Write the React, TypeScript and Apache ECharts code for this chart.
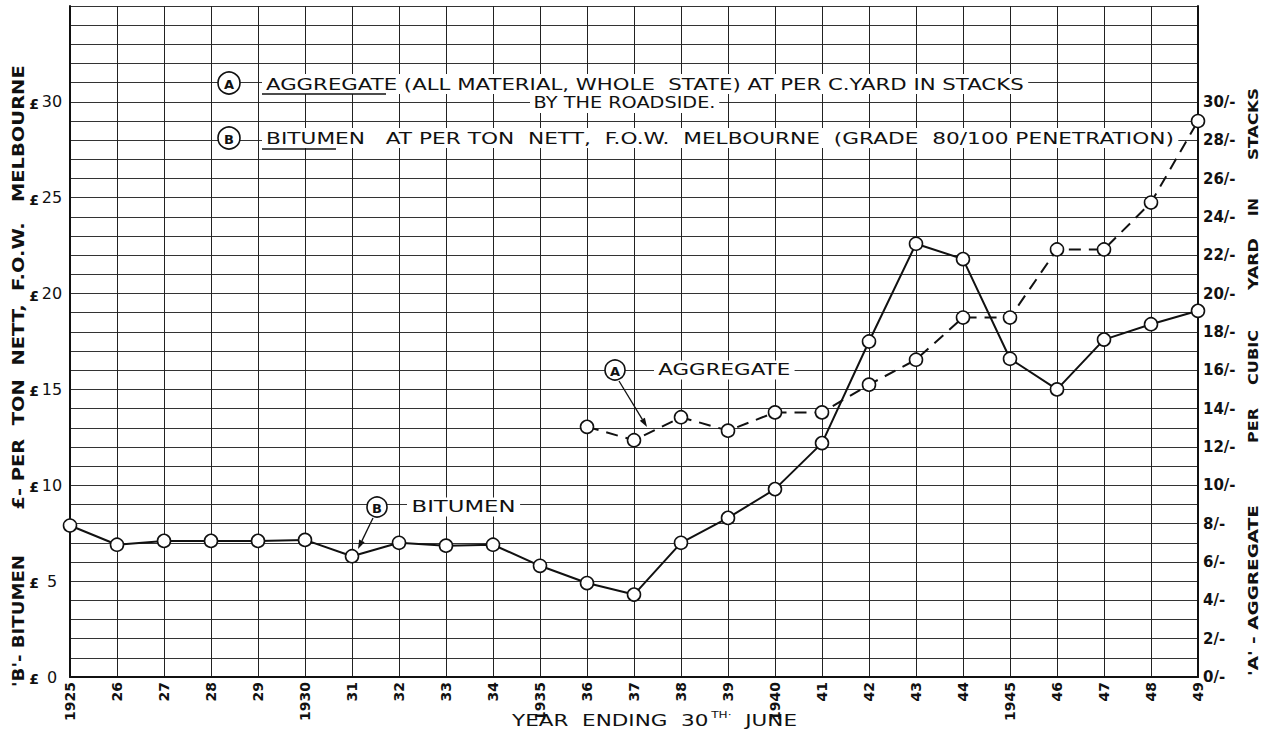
import React, { useEffect, useRef } from "react";
import * as echarts from "echarts";

const years = ["1925","26","27","28","29","1930","31","32","33","34","1935","36","37","38","39","1940","41","42","43","44","1945","46","47","48","49"];
// B - Bitumen, £ per ton nett, F.O.W. Melbourne
const bitumen = [7.9,6.9,7.1,7.1,7.1,7.15,6.3,7.0,6.85,6.9,5.8,4.9,4.3,7.0,8.3,9.8,12.2,17.5,22.6,21.8,16.6,15.0,17.6,18.4,19.1];
// A - Aggregate, shillings per cubic yard in stacks
const aggregate = [null,null,null,null,null,null,null,null,null,null,null,13.05,12.35,13.55,12.85,13.8,13.8,15.25,16.55,18.75,18.75,22.3,22.3,24.75,29.0];

const leftTicks = [0,5,10,15,20,25,30];
const rightTicks = [0,2,4,6,8,10,12,14,16,18,20,22,24,26,28,30];

const FONT = "DejaVu Sans";
const INK = "#111";

let measureCtx: CanvasRenderingContext2D | null = null;
function measure(text: string, font: string): number {
  if (!measureCtx) measureCtx = document.createElement("canvas").getContext("2d");
  measureCtx!.font = font;
  return measureCtx!.measureText(text).width;
}

export default function App() {
  const ref = useRef<HTMLDivElement>(null);
  useEffect(() => {
    const chart = echarts.init(ref.current!, null, { renderer: "svg" });
    const circleLabel = (cx: number, cy: number, ch: string, r: number) => [
      { type: "circle", z: 20, shape: { cx, cy, r }, style: { fill: "#fff", stroke: INK, lineWidth: 1.6 } },
      { type: "text", z: 21, x: cx, y: cy + 1, style: { text: ch, font: `bold 13px "${FONT}"`, fill: INK, align: "center", verticalAlign: "middle" } },
    ];
    const arrow = (x1: number, y1: number, x2: number, y2: number) => {
      const a = Math.atan2(y2 - y1, x2 - x1);
      const L = 9, W = 3;
      const bx = x2 - L * Math.cos(a), by = y2 - L * Math.sin(a);
      return [
        { type: "line", z: 20, shape: { x1, y1, x2: bx, y2: by }, style: { stroke: INK, lineWidth: 1.3 } },
        { type: "polygon", z: 20, shape: { points: [[x2, y2], [bx + W * Math.sin(a), by - W * Math.cos(a)], [bx - W * Math.sin(a), by + W * Math.cos(a)]] }, style: { fill: INK } },
      ];
    };
    // horizontal text fitted to a given span [x1, x2]
    const hfit = (x1: number, x2: number, y: number, text: string, size: number, weight = "normal") => {
      const font = `${weight} ${size}px "${FONT}"`;
      const sx = (x2 - x1) / measure(text, font);
      return {
        type: "text", z: 20, x: x1, y, scaleX: sx,
        style: { text, font, fill: INK, align: "left", verticalAlign: "middle", backgroundColor: "#fff", padding: [2, 3] },
      };
    };
    // vertical text (reads bottom to top) fitted to a span [yTop, yBottom]
    const vfit = (x: number, yTop: number, yBottom: number, text: string, size: number) => {
      const font = `bold ${size}px "${FONT}"`;
      const sx = (yBottom - yTop) / measure(text, font);
      return {
        type: "text", z: 20, x, y: (yTop + yBottom) / 2, rotation: Math.PI / 2, scaleX: sx,
        style: { text, font, fill: INK, align: "center", verticalAlign: "middle" },
      };
    };

    const xNameFont = `16px "${FONT}"`;
    const xNameWidth = measure("YEAR  ENDING  30", xNameFont) + measure("TH·", `9px "${FONT}"`) + 2 + measure("  JUNE", xNameFont);

    chart.setOption({
      animation: false,
      backgroundColor: "#fff",
      grid: { left: 70, right: 78, top: 6, bottom: 59 },
      xAxis: {
        type: "category",
        data: years,
        boundaryGap: false,
        axisLine: { lineStyle: { color: INK, width: 2 } },
        axisTick: { show: false },
        axisLabel: { interval: 0, rotate: 90, margin: 5, fontFamily: FONT, fontSize: 14, fontWeight: "bold", color: INK },
        splitLine: { show: true, interval: 0, lineStyle: { color: "#222", width: 1 } },
      },
      yAxis: [
        {
          type: "value", min: 0, max: 35, interval: 1, position: "left",
          axisLine: { show: true, lineStyle: { color: INK, width: 2 } },
          axisTick: { show: false },
          splitLine: { show: true, lineStyle: { color: "#333", width: 1 } },
          axisLabel: {
            margin: 6, color: INK, fontFamily: FONT,
            formatter: (v: number) => (leftTicks.includes(v) ? `{p|£}{n|${v}}` : ""),
            rich: {
              p: { fontFamily: FONT, fontSize: 14, fontWeight: "bold", color: INK, width: 12, align: "center", padding: [4, 0, 0, 0] },
              n: { fontFamily: FONT, fontSize: 16, color: INK, width: 24, align: "center" },
            },
          },
        },
        {
          type: "value", min: 0, max: 35, interval: 1, position: "right",
          axisLine: { show: true, lineStyle: { color: INK, width: 2 } },
          axisTick: { show: false },
          splitLine: { show: false },
          axisLabel: {
            margin: 5, color: INK, fontFamily: FONT, fontSize: 15, fontWeight: "bold",
            formatter: (v: number) => (rightTicks.includes(v) ? `${v}/-` : ""),
          },
        },
      ],
      series: [
        {
          name: "Bitumen", type: "line", data: bitumen, yAxisIndex: 0, z: 5,
          symbol: "circle", symbolSize: 13,
          lineStyle: { color: INK, width: 2 },
          itemStyle: { color: "#fff", borderColor: INK, borderWidth: 1.6 },
        },
        {
          name: "Aggregate", type: "line", data: aggregate, yAxisIndex: 1, z: 5,
          symbol: "circle", symbolSize: 13,
          lineStyle: { color: INK, width: 2, type: [12, 8] },
          itemStyle: { color: "#fff", borderColor: INK, borderWidth: 1.6 },
        },
      ],
      graphic: [
        // legend block
        ...circleLabel(229, 83, "A", 11),
        hfit(262, 1020, 84, "AGGREGATE (ALL MATERIAL, WHOLE  STATE) AT PER C.YARD IN STACKS", 16),
        { type: "line", z: 22, shape: { x1: 262, y1: 94, x2: 386, y2: 94 }, style: { stroke: INK, lineWidth: 1.5 } },
        hfit(530, 712, 103, "BY THE ROADSIDE.", 16),
        ...circleLabel(229, 138, "B", 11),
        hfit(262, 1170, 138, "BITUMEN   AT PER TON  NETT,  F.O.W.  MELBOURNE  (GRADE  80/100 PENETRATION)", 16),
        { type: "line", z: 22, shape: { x1: 262, y1: 149, x2: 336, y2: 149 }, style: { stroke: INK, lineWidth: 1.5 } },
        // series annotations
        ...circleLabel(615, 370, "A", 10),
        hfit(654, 786, 370, "AGGREGATE", 15),
        ...arrow(619, 381, 647, 427),
        ...circleLabel(377, 507, "B", 10),
        hfit(407, 511, 507, "BITUMEN", 15),
        ...arrow(373, 518, 358, 549),
        // left axis title (bottom to top)
        vfit(19, 555, 687, "'B'- BITUMEN", 15),
        vfit(19, 65, 510, "£- PER  TON  NETT,  F.O.W.   MELBOURNE", 15),
        // right axis title (bottom to top)
        vfit(1253, 505, 676, "'A' - AGGREGATE", 14),
        vfit(1253, 408, 443, "PER", 14),
        vfit(1253, 330, 385, "CUBIC", 14),
        vfit(1253, 238, 290, "YARD", 14),
        vfit(1253, 198, 216, "IN", 14),
        vfit(1253, 88, 160, "STACKS", 14),
        // x axis title
        {
          type: "text", z: 20, x: 512, y: 720, scaleX: 285 / xNameWidth,
          style: {
            text: "YEAR  ENDING  30{s|TH·}  JUNE",
            font: xNameFont, fill: INK, align: "left", verticalAlign: "middle",
            rich: { s: { fontSize: 9, fontFamily: FONT, fill: INK, color: INK, padding: [0, 0, 9, 2] } },
          },
        },
      ],
    });
    return () => chart.dispose();
  }, []);
  return <div ref={ref} style={{ position: "fixed", left: 0, top: 0, width: 1276, height: 736 }} />;
}
